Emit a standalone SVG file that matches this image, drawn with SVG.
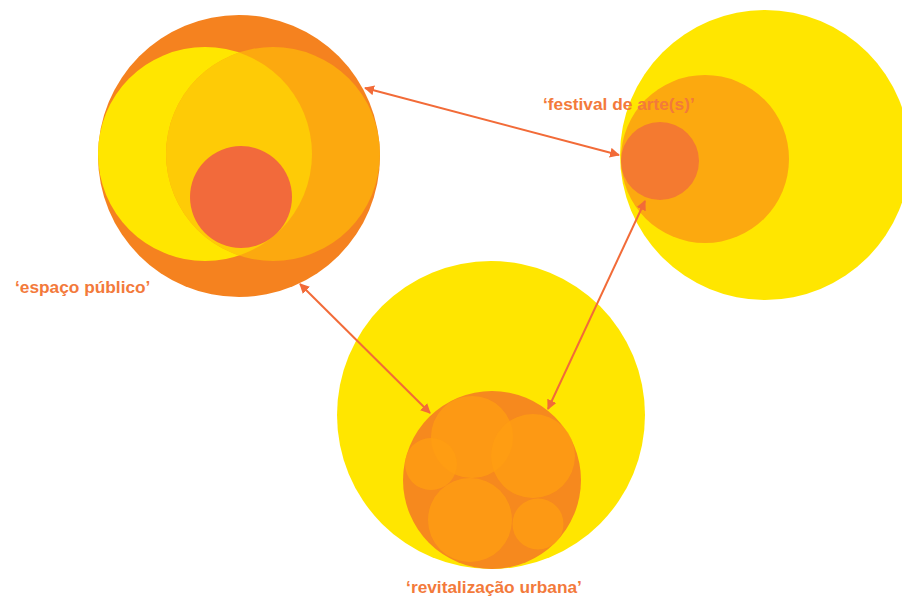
<svg xmlns="http://www.w3.org/2000/svg" width="902" height="598" viewBox="0 0 902 598">
<style>
.lbl{font-family:"Liberation Sans",Arial,sans-serif;font-weight:bold;font-size:17.3px;fill:#F37A3B}
.arrow{stroke:#F26B38;stroke-width:2;fill:none;marker-start:url(#ah);marker-end:url(#ah)}
.yel{fill:#FFE600}
.org{fill:#F5821F}
.lo{fill:#FCA90F}
.sub{fill:#FF9E12;fill-opacity:0.8}
</style>
<defs>
<marker id="ah" viewBox="0 0 10 10" refX="9" refY="5" markerWidth="5" markerHeight="5" orient="auto-start-reverse" markerUnits="strokeWidth">
<path d="M0,0 L10,5 L0,10 z" fill="#F26B38"/>
</marker>
<clipPath id="clipY"><circle cx="205" cy="154" r="107"/></clipPath>
</defs>
<rect width="902" height="598" fill="#FFFFFF"/>
<g id="espaco-publico">
<circle class="org" cx="239" cy="156" r="141"/>
<circle class="yel" cx="205" cy="154" r="107"/>
<circle class="lo" cx="273" cy="154" r="107"/>
<circle cx="273" cy="154" r="107" fill="#FECB06" clip-path="url(#clipY)"/>
<circle cx="241" cy="197" r="51" fill="#F26A3B"/>
<text class="lbl" x="15" y="293">‘espaço público’</text>
</g>
<g id="festival-de-artes">
<circle class="yel" cx="765" cy="155" r="145"/>
<circle class="lo" cx="705" cy="159" r="84"/>
<circle cx="660" cy="161" r="39" fill="#F47A30"/>
<text class="lbl" x="543" y="110">‘festival de arte(s)’</text>
</g>
<g id="revitalizacao-urbana">
<circle class="yel" cx="491" cy="415" r="154"/>
<circle cx="492" cy="480" r="89" fill="#F6891E"/>
<circle class="sub" cx="472" cy="437" r="41"/>
<circle class="sub" cx="533" cy="456" r="42"/>
<circle class="sub" cx="431" cy="464" r="26"/>
<circle class="sub" cx="470" cy="520" r="42"/>
<circle class="sub" cx="538" cy="524" r="25.5"/>
<text class="lbl" x="494" y="593" text-anchor="middle">‘revitalização urbana’</text>
</g>
<g id="connectors">
<line class="arrow" x1="365" y1="88" x2="619" y2="155"/>
<line class="arrow" x1="300" y1="284" x2="430" y2="413"/>
<line class="arrow" x1="548" y1="409" x2="645" y2="201"/>
</g>
</svg>
